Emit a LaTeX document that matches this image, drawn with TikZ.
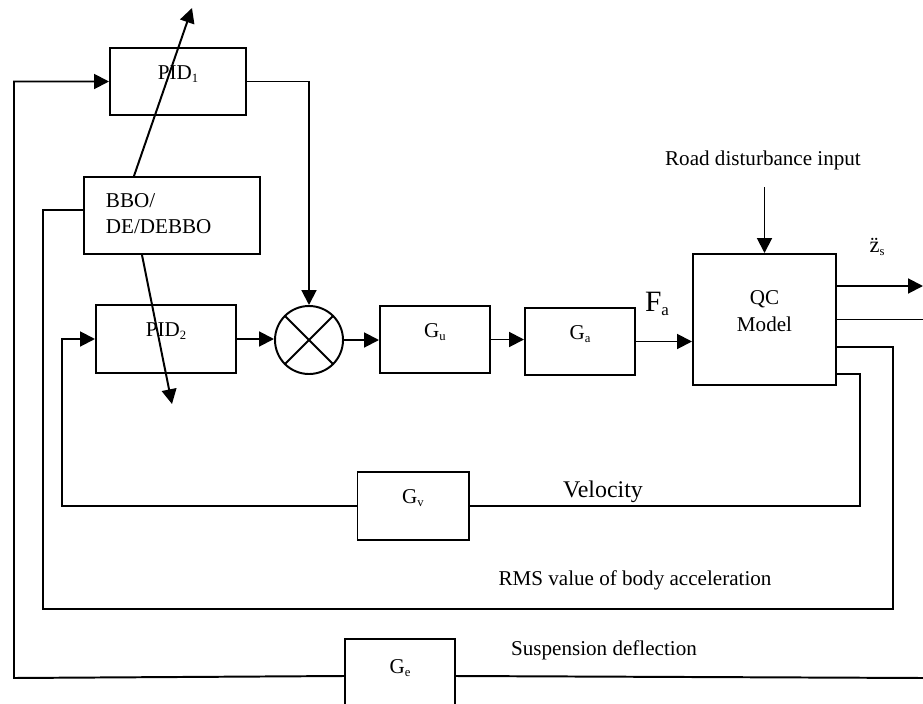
\documentclass[tikz,border=0pt]{standalone}
\usepackage{fontspec}
\setmainfont{Liberation Serif}
\usepackage{tikz}
\usetikzlibrary{arrows.meta,calc}
\newcommand{\subtxt}[1]{\raisebox{-0.3ex}{\fontsize{9}{10}\selectfont #1}}

\begin{document}
\begin{tikzpicture}[x=0.025cm, y=-0.025cm, line width=1.4pt,
    every node/.style={font=\fontsize{15}{19}\selectfont},
    blk/.style={draw, line width=1.4pt, text height=11pt, text depth=14pt, inner sep=0pt},
    arr/.style={-{Triangle[length=10.5pt,width=10.5pt]}}]
  \useasboundingbox (0,0) rectangle (923,704);
  % Controller blocks
  \node[blk, minimum width=3.4cm, minimum height=1.675cm] (pid1) at (178,81.5) {PID\subtxt{1}};
  \node[draw, minimum width=4.4cm, minimum height=1.925cm] (bbo) at (172,215.5) {};
  \node[anchor=west, align=left, inner sep=0pt] (bbotxt) at (105,213.5) {BBO/\\DE/DEBBO};
  \node[blk, minimum width=3.5cm, minimum height=1.7cm] (pid2) at (166,339) {PID\subtxt{2}};
  \node[draw, circle, minimum size=1.7cm, inner sep=0pt] (sum) at (309,340) {};
  \draw (sum.north east) -- (sum.south west);
  \draw (sum.north west) -- (sum.south east);
  % Plant chain
  \node[blk, minimum width=2.75cm, minimum height=1.675cm] (gu) at (435,339.5) {G\subtxt{u}};
  \node[blk, minimum width=2.75cm, minimum height=1.675cm] (ga) at (580,341.5) {G\subtxt{a}};
  \node[draw, align=center, text depth=12pt, minimum width=3.575cm, minimum height=3.275cm] (qc) at (764.5,319.5) {QC\\Model};
  \node[blk, minimum width=2.775cm, minimum height=1.7cm] (gv) at (413,506) {G\subtxt{v}};
  \node[blk, minimum width=2.75cm, minimum height=1.85cm] (ge) at (400,676) {G\subtxt{e}};
  % Labels
  \node (road) at (763,160) {Road disturbance input};
  \node[font=\fontsize{21}{24}\selectfont] (fa) at (657,304) {F\raisebox{-0.3ex}{\fontsize{12}{14}\selectfont a}};
  \node[font=\fontsize{16}{19}\selectfont] (zs) at (877,247) {\"{z}\subtxt{s}};
  \node[font=\fontsize{17}{20}\selectfont] (vel) at (603,492) {Velocity};
  \node (rms) at (635,580) {RMS value of body acceleration};
  \node (susp) at (604,650) {Suspension deflection};
  % Corner points
  \coordinate (tune1) at (192,8);
  \coordinate (tune2) at (172,404);
  \coordinate (zsend) at (923,286);
  \coordinate (outend) at (923,319.5);
  \coordinate (velr) at (860,506);
  \coordinate (vell) at (62,506);
  \coordinate (rmsr) at (893,609);
  \coordinate (rmsl) at (43,609);
  \coordinate (sdr) at (923,678);
  \coordinate (sdl) at (14,678);
  % Forward path
  \draw[arr] (pid1.east) -| (sum.north);
  \draw[arr] (pid2.east) -- (pid2.east -| sum.west);
  \draw[arr] (sum.east) -- (sum.east -| gu.west);
  \draw[arr] (gu.east) -- (gu.east -| ga.west);
  \draw[arr] (ga.east) -- (ga.east -| qc.west);
  \draw[arr] ([yshift=-0.3cm]road.south -| qc.north) -- (qc.north);
  \draw[arr] ([yshift=0.8375cm]qc.east) -- (zsend);
  \draw (qc.east) -- (outend);
  % Tuning arrows
  \draw[arr] ([xshift=-0.95cm]bbo.north) -- (tune1);
  \draw[arr] ([xshift=-0.75cm]bbo.south) -- (tune2);
  % Feedback loops
  \draw ([yshift=-1.3625cm]qc.east) -| (velr) -- (gv.east);
  \draw[arr] (gv.west) -- (vell) |- (pid2.west);
  \draw ([yshift=-0.6875cm]qc.east) -| (rmsr) -- (rmsl) |- ([yshift=0.14cm]bbo.west);
  \draw (sdr) -- (ge.east);
  \draw[arr] (ge.west) -- (sdl) |- (pid1.west);
\end{tikzpicture}
\end{document}
